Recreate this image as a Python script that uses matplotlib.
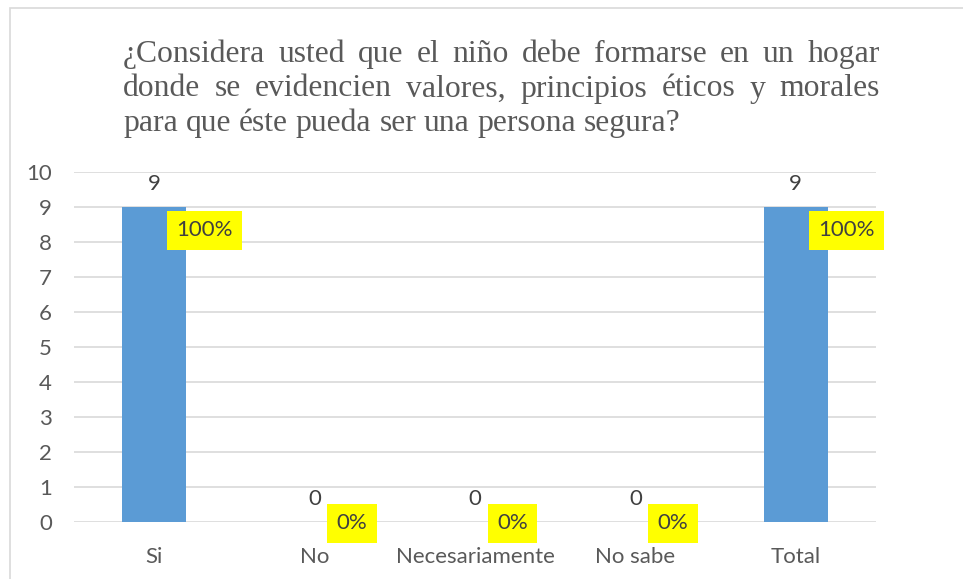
import matplotlib
matplotlib.use("Agg")
import matplotlib.pyplot as plt
from matplotlib.patches import Rectangle

# datos
categorias = ["Si", "No", "Necesariamente", "No sabe", "Total"]
valores = [9, 0, 0, 0, 9]
porcentajes = ["100%", "0%", "0%", "0%", "100%"]
titulo = ["¿Considera usted que el niño debe formarse en un hogar",
          "donde se evidencien valores, principios éticos y morales",
          "para que éste pueda ser una persona segura?"]

W, H = 963, 579
gris = "#595959"
oscuro = "#404040"
azul = "#5B9BD5"

fig = plt.figure(figsize=(W / 100, H / 100), dpi=100)
renderer = fig.canvas.get_renderer()


def ancho_px(s, **kw):
    t = fig.text(0, 0, s, **kw)
    w = t.get_window_extent(renderer).width
    t.remove()
    return w


def ajustar(s, target, **kw):
    # tamaño de letra para que el texto mida target px
    return 10 * target / ancho_px(s, fontsize=10, **kw)


sans = "Lato"
fs = ajustar("Necesariamente", 159, family=sans)

# borde del gráfico
fig.patches.append(Rectangle((10 / W, -0.1), 1.2, 1 - 8 / H + 0.1,
                             transform=fig.transFigure, facecolor="none",
                             edgecolor="#D9D9D9", lw=1.2))

# título justificado
serif = "Liberation Serif"
fs_t = ajustar(titulo[2], 559, family=serif)
x0, x1 = 123, 880
bases = [62, 96.5, 131]
for i, linea in enumerate(titulo):
    palabras = linea.split(" ")
    anchos = [ancho_px(p, fontsize=fs_t, family=serif) for p in palabras]
    if i < 2:
        hueco = (x1 - x0 - sum(anchos)) / (len(palabras) - 1)
    else:
        hueco = ancho_px("a b", fontsize=fs_t, family=serif) - ancho_px("ab", fontsize=fs_t, family=serif)
    x = x0
    for p, w in zip(palabras, anchos):
        fig.text(x / W, 1 - bases[i] / H, p, fontsize=fs_t, family=serif,
                 color=gris, ha="left", va="baseline")
        x += w + hueco

ax = fig.add_axes([74 / W, 57 / H, 802 / W, 350 / H])
xs = list(range(len(categorias)))
ax.bar(xs, valores, width=0.4, color=azul, zorder=3)
ax.set_xlim(-0.5, len(categorias) - 0.5)
ax.set_ylim(0, 10)
ax.set_yticks(range(0, 11))
ax.grid(axis="y", color="#D9D9D9", lw=1.2, zorder=0)
ax.set_axisbelow(True)
for s in ax.spines.values():
    s.set_visible(False)
ax.set_xticks(xs)
ax.set_xticklabels(categorias)
ax.tick_params(length=0, labelcolor=gris, labelsize=fs)
ax.tick_params(axis="y", pad=16)
ax.tick_params(axis="x", pad=18)
for lab in ax.get_xticklabels() + ax.get_yticklabels():
    lab.set_family(sans)

for x, v, p in zip(xs, valores, porcentajes):
    ax.text(x, v + 0.65, str(v), ha="center", va="center", fontsize=fs,
            family=sans, color=oscuro, zorder=4)
    yp = v - 0.67 if v > 0 else 0
    ax.annotate(p, (x, yp), xytext=(16, -1 if v == 0 else 0),
                textcoords="offset points", annotation_clip=False,
                ha="left", va="center", fontsize=fs, family=sans, color=oscuro,
                bbox=dict(boxstyle="square,pad=0.42", fc="#FFFF00", ec="none"),
                zorder=5)

fig.savefig("out.png", dpi=100)
